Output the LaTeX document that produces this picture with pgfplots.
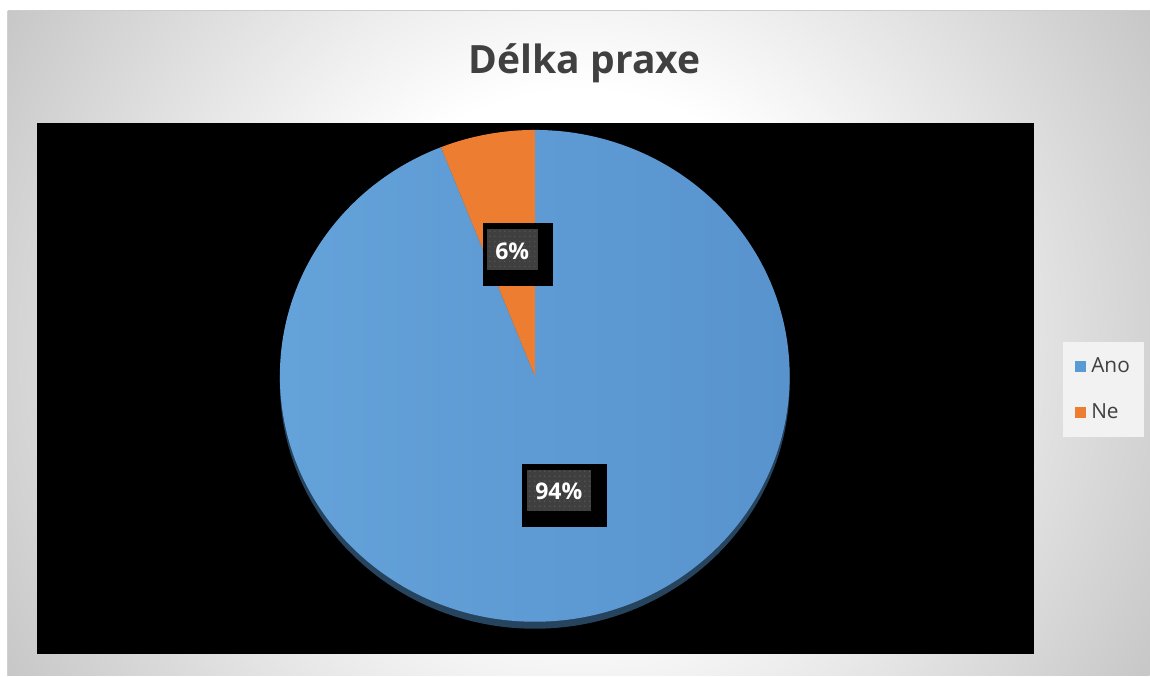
\documentclass[border=0pt]{standalone}
\usepackage{fontspec}
\setmainfont{Open Sans}
\usepackage{pgfplots}
\pgfplotsset{compat=1.18}
\usetikzlibrary{patterns}
\definecolor{ano}{HTML}{5B9BD5}
\definecolor{anolight}{HTML}{64A2DA}
\definecolor{anodark}{HTML}{5893CD}
\definecolor{ne}{HTML}{ED7D31}
\definecolor{txt}{HTML}{404040}
\definecolor{labbg}{HTML}{3F3F3F}
\definecolor{labdot}{HTML}{555555}
\definecolor{shad}{HTML}{27445F}
\definecolor{legbg}{HTML}{F2F2F2}
\pgfdeclareradialshading{bgshade}{\pgfpoint{0bp}{0bp}}{color(0bp)=(white); color(9bp)=(white); color(24.3bp)=(black!23); color(50bp)=(black!23)}
% data
\def\vAno{94}
\def\vNe{6}
\begin{document}
\begin{tikzpicture}[x=0.6pt,y=0.6pt]
\path[fill=white] (0,0) rectangle (1150,-676);
\begin{scope}
\clip (8,-11) rectangle (1150,-676);
\shade[shading=bgshade] (579,-343) circle (700);
\end{scope}
\draw[black!20, line width=0.6pt] (8,-11) -- (1150,-11);
\draw[black!18, line width=0.6pt] (8,-11) -- (8,-676);
\node[font=\bfseries\fontsize{23.4pt}{26pt}\selectfont, text=txt] at (585,-63) {Délka praxe};
\pgfmathsetmacro\angA{360*(\vAno/(\vAno+\vNe))}
\pgfmathsetmacro\endA{90-\angA}
\begin{axis}[
  at={(22.2pt,-392.4pt)}, anchor=south west,
  scale only axis, width=598.2pt, height=318.6pt,
  xmin=37, xmax=1034, ymin=-654, ymax=-123,
  axis line style={draw=none}, ticks=none,
  axis background/.style={fill=black},
  clip=false,
  legend style={at={(1.029,0.5876)}, anchor=north west, fill=legbg, draw=none,
    font=\fontsize{12.5pt}{14pt}\selectfont, text=txt, inner xsep=7.5pt, inner ysep=8.5pt,
    row sep=15pt, column sep=2pt, nodes={inner sep=1pt}},
  legend cell align=left,
  legend image code/.code={\fill[#1, draw=none] (1.5pt,-3.3pt) rectangle (8.1pt,3.3pt);},
]
% shadow
\fill[shad] (axis cs:535,-383) ellipse [x radius=153pt, y radius=147.6pt];
% Ano slice
\shade[left color=anolight, right color=anodark] (axis cs:535,-376) -- ++(0pt,147.6pt) arc[start angle=90, end angle=\endA, x radius=153pt, y radius=147.6pt] -- cycle;
% Ne slice
\fill[ne] (axis cs:535,-376) -- ++(0pt,147.6pt) arc[start angle=90, end angle=\endA+360, x radius=153pt, y radius=147.6pt] -- cycle;
\addlegendimage{fill=ano, draw=none}
\addlegendentry{Ano}
\addlegendimage{fill=ne, draw=none}
\addlegendentry{Ne}
% data labels
\fill[black] (axis cs:483,-223) rectangle (axis cs:553,-286);
\fill[labbg] (axis cs:487,-229) rectangle (axis cs:538,-270);
\fill[pattern=dots, pattern color=labdot] (axis cs:487,-229) rectangle (axis cs:538,-270);
\node[text=white, font=\bfseries\fontsize{13.8pt}{16pt}\selectfont] at (axis cs:512.5,-251) {\vNe\%};
\fill[black] (axis cs:522,-464) rectangle (axis cs:607,-527);
\fill[labbg] (axis cs:527,-470) rectangle (axis cs:591,-511);
\fill[pattern=dots, pattern color=labdot] (axis cs:527,-470) rectangle (axis cs:591,-511);
\node[text=white, font=\bfseries\fontsize{13.8pt}{16pt}\selectfont] at (axis cs:559,-492) {\vAno\%};
\end{axis}
\end{tikzpicture}
\end{document}
